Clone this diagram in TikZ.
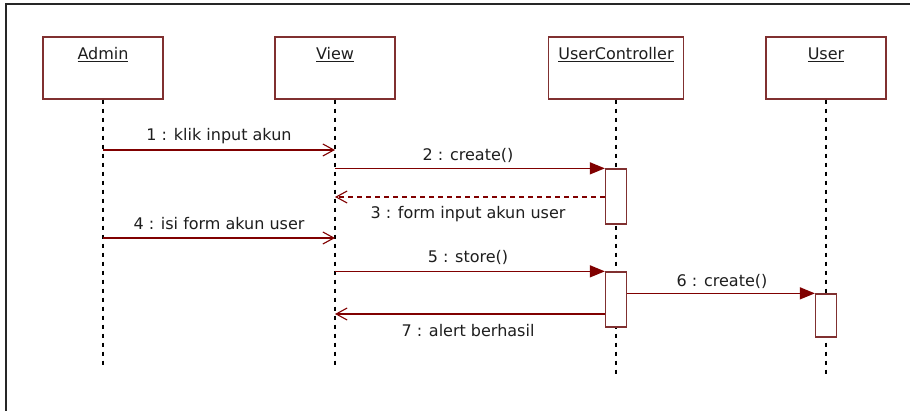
\documentclass[tikz,border=0pt]{standalone}
\usepackage{fontspec}
\setmainfont{DejaVu Sans}
\usetikzlibrary{arrows.meta}
\definecolor{boxline}{RGB}{128,48,48}
\definecolor{msgline}{RGB}{128,0,0}
\definecolor{txt}{RGB}{30,30,30}
\tikzset{
  objbox/.style={draw=boxline, line width=1.3pt, fill=white, minimum width=120pt, minimum height=62pt, inner sep=0pt},
  objname/.style={text=txt, font=\fontsize{16}{19}\selectfont, inner sep=0pt},
  lifeline/.style={draw=black, line width=1.8pt, dash pattern=on 4pt off 5pt},
  actbox/.style={draw=boxline, line width=1.3pt, fill=white, minimum width=21pt, inner sep=0pt},
  msg/.style={draw=msgline, line width=1.3pt},
  callmsg/.style={msg, -{Triangle[length=15pt, width=12pt]}},
  openmsg/.style={msg, -{Straight Barb[length=11pt, width=12pt, line width=1.1pt]}},
  retmsg/.style={openmsg, dash pattern=on 5pt off 4pt},
  msglabel/.style={text=txt, font=\fontsize{16}{19}\selectfont, inner sep=0pt},
}
\begin{document}
\begin{tikzpicture}[x=1pt, y=-1pt]
\useasboundingbox (0,0) rectangle (910,411);
\fill[white] (0,0) rectangle (910,411);
% frame edges
\draw[line width=2pt, black!85] (910,4) -- (6,4) -- (6,411);

% participants
\node[objbox] (admin) at (103,68) {};
\node[objbox] (view) at (335,68) {};
\node[objbox, minimum width=135pt] (uc) at (616,68) {};
\node[objbox] (user) at (826,68) {};
\node[objname] (adminname) at (103,55) {\underline{Admin}};
\node[objname] (viewname) at (335,55) {\underline{View}};
\node[objname] (ucname) at (616,55) {\underline{UserController}};
\node[objname] (username) at (826,55) {\underline{User}};

% lifeline ends
\coordinate (adminend) at (103,368);
\coordinate (viewend) at (335,368);
\coordinate (ucend) at (616,376);
\coordinate (userend) at (826,377);
\draw[lifeline] (admin.south) -- (adminend);
\draw[lifeline] (view.south) -- (viewend);
\draw[lifeline] (uc.south) -- (ucend);
\draw[lifeline] (user.south) -- (userend);

% activations
\node[actbox, minimum height=55pt] (act1) at (616,196.5) {};
\node[actbox, minimum height=55pt] (act2) at (616,299.5) {};
\node[actbox, minimum height=43pt] (act3) at (826,315.5) {};

% message levels
\coordinate (m1) at (0,150);
\coordinate (m3) at (0,197);
\coordinate (m4) at (0,238);
\coordinate (m7) at (0,314);

% messages
\draw[openmsg] (admin.south |- m1) -- (view.south |- m1);
\draw[callmsg] (view.south |- act1.north) -- (act1.north west);
\draw[retmsg] (act1.west |- m3) -- (view.south |- m3);
\draw[openmsg] (admin.south |- m4) -- (view.south |- m4);
\draw[callmsg] (view.south |- act2.north) -- (act2.north west);
\draw[callmsg] (act2.east |- act3.north) -- (act3.north west);
\draw[openmsg] (act2.west |- m7) -- (view.south |- m7);

% message labels
\node[msglabel] (l1) at (219,136) {1 : klik input akun};
\node[msglabel] (l2) at (468,155) {2 : create()};
\node[msglabel] (l3) at (468,214) {3 : form input akun user};
\node[msglabel] (l4) at (219,224) {4 : isi form akun user};
\node[msglabel] (l5) at (468,257) {5 : store()};
\node[msglabel] (l6) at (722,281) {6 : create()};
\node[msglabel] (l7) at (468,331) {7 : alert berhasil};
\end{tikzpicture}
\end{document}
